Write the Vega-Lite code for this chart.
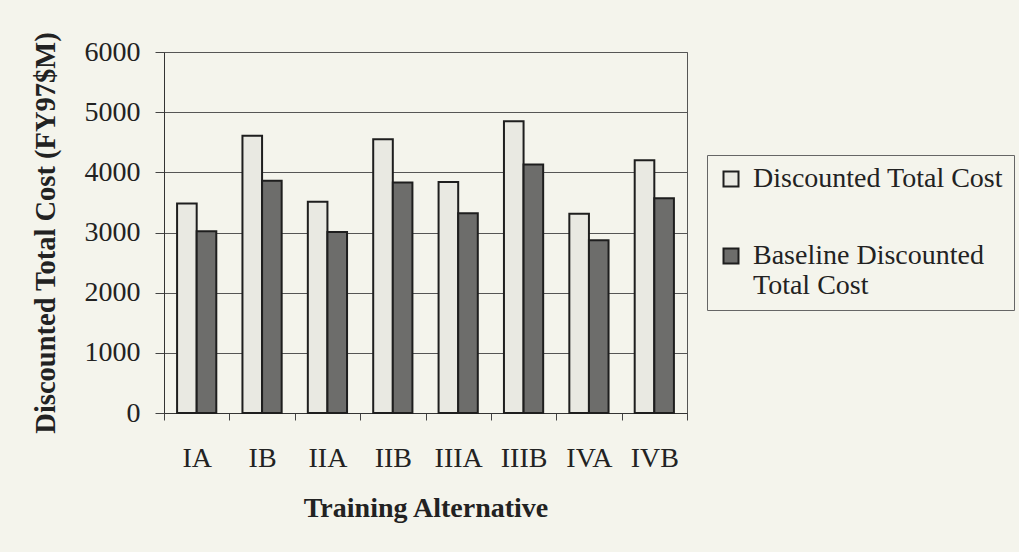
{
  "$schema": "https://vega.github.io/schema/vega-lite/v6.json",
  "width": 523,
  "height": 361,
  "autosize": "none",
  "padding": {"left": 164, "top": 52, "right": 332, "bottom": 139},
  "background": "#f4f4ec",
  "data": {
    "values": [
      {"alt": "IA", "series": "Discounted Total Cost", "cost": 3480},
      {"alt": "IA", "series": "Baseline Discounted Total Cost", "cost": 3020},
      {"alt": "IB", "series": "Discounted Total Cost", "cost": 4610},
      {"alt": "IB", "series": "Baseline Discounted Total Cost", "cost": 3860},
      {"alt": "IIA", "series": "Discounted Total Cost", "cost": 3510},
      {"alt": "IIA", "series": "Baseline Discounted Total Cost", "cost": 3010},
      {"alt": "IIB", "series": "Discounted Total Cost", "cost": 4550},
      {"alt": "IIB", "series": "Baseline Discounted Total Cost", "cost": 3830},
      {"alt": "IIIA", "series": "Discounted Total Cost", "cost": 3840},
      {"alt": "IIIA", "series": "Baseline Discounted Total Cost", "cost": 3320},
      {"alt": "IIIB", "series": "Discounted Total Cost", "cost": 4850},
      {"alt": "IIIB", "series": "Baseline Discounted Total Cost", "cost": 4130},
      {"alt": "IVA", "series": "Discounted Total Cost", "cost": 3310},
      {"alt": "IVA", "series": "Baseline Discounted Total Cost", "cost": 2870},
      {"alt": "IVB", "series": "Discounted Total Cost", "cost": 4200},
      {"alt": "IVB", "series": "Baseline Discounted Total Cost", "cost": 3570}
    ]
  },
  "mark": {"type": "bar", "stroke": "#1e1e1e", "strokeWidth": 2},
  "encoding": {
    "x": {
      "field": "alt",
      "type": "nominal",
      "sort": null,
      "scale": {"paddingInner": 0, "paddingOuter": 0},
      "axis": {
        "title": "Training Alternative",
        "labelAngle": 0,
        "tickBand": "extent",
        "tickSize": 7,
        "labelPadding": 24,
        "titlePadding": 22,
        "grid": false
      }
    },
    "xOffset": {
      "field": "series",
      "type": "nominal",
      "sort": ["Discounted Total Cost", "Baseline Discounted Total Cost"],
      "scale": {"paddingInner": 0, "paddingOuter": 0.667}
    },
    "y": {
      "field": "cost",
      "type": "quantitative",
      "scale": {"domain": [0, 6000], "nice": false},
      "axis": {
        "title": "Discounted Total Cost (FY97$M)",
        "values": [0, 1000, 2000, 3000, 4000, 5000, 6000],
        "format": "d",
        "tickSize": 9,
        "labelPadding": 15,
        "titlePadding": 24,
        "titleFontSize": 28.5,
        "grid": true
      }
    },
    "color": {
      "field": "series",
      "type": "nominal",
      "scale": {
        "domain": ["Discounted Total Cost", "Baseline Discounted Total Cost"],
        "range": ["#e9e9e2", "#6d6d6b"]
      },
      "legend": {
        "title": null,
        "orient": "none",
        "legendX": 543,
        "legendY": 103,
        "padding": 10,
        "rowPadding": 49,
        "strokeColor": "#666666",
        "fillColor": "#f4f4ec",
        "symbolType": "square",
        "symbolSize": 225,
        "symbolStrokeColor": "#1e1e1e",
        "symbolStrokeWidth": 2,
        "symbolOpacity": 1,
        "labelOffset": 8,
        "labelFont": "Liberation Serif",
        "labelFontSize": 28,
        "labelColor": "#222222",
        "labelLimit": 400,
        "labelLineHeight": 28,
        "labelBaseline": "middle",
        "labelExpr": "datum.label == 'Baseline Discounted Total Cost' ? ['Baseline Discounted', 'Total Cost'] : datum.label"
      }
    }
  },
  "config": {
    "view": {"stroke": "#555555", "strokeWidth": 1},
    "axis": {
      "labelFont": "Liberation Serif",
      "labelFontSize": 28,
      "labelColor": "#222222",
      "titleFont": "Liberation Serif",
      "titleFontSize": 28,
      "titleFontWeight": "bold",
      "titleColor": "#222222",
      "domainColor": "#333333",
      "tickColor": "#444444",
      "gridColor": "#555555",
      "gridOpacity": 1,
      "gridWidth": 1
    }
  }
}
